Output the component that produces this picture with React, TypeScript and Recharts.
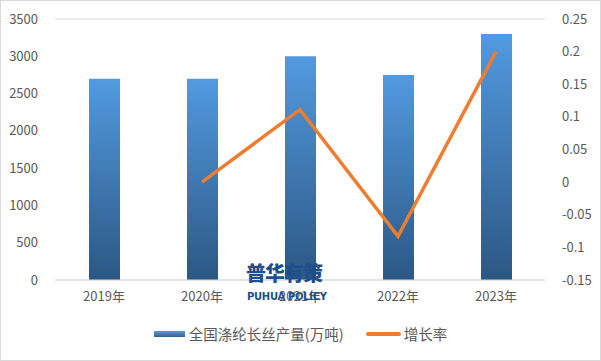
import React from 'react';
import { ComposedChart, Bar, Line, XAxis, YAxis, CartesianGrid, Legend } from 'recharts';

const years = ['2019年', '2020年', '2021年', '2022年', '2023年'];
const output = [2700, 2700, 3000, 2750, 3300];
const growth: (number | null)[] = [null, 0, 0.111, -0.083, 0.2];
const leftTicks = [0, 500, 1000, 1500, 2000, 2500, 3000, 3500];
const rightTicks = [-0.15, -0.1, -0.05, 0, 0.05, 0.1, 0.15, 0.2, 0.25];
const barName = '全国涤纶长丝产量(万吨)';
const lineName = '增长率';

const data = years.map((y, i) => ({ year: y, output: output[i], growth: growth[i] }));

const FONT = '"Microsoft YaHei", "Noto Sans CJK SC", "DejaVu Sans", sans-serif';
const TXT = '#595959';

const LegendContent = () => (
  <div style={{ display: 'flex', justifyContent: 'center', alignItems: 'center', fontFamily: FONT, fontSize: 14.5, color: TXT, height: 20, lineHeight: '20px' }}>
    <span style={{ display: 'inline-block', width: 31, height: 6, background: 'linear-gradient(#5b9bd5,#2f5f8f)', marginRight: 4 }} />
    <span>{barName}</span>
    <span style={{ display: 'inline-block', width: 35, height: 4, borderRadius: 2, background: '#ED7D31', marginLeft: 22, marginRight: 3 }} />
    <span>{lineName}</span>
  </div>
);

export default function App() {
  return (
    <div style={{ position: 'absolute', left: 0, top: 0, width: 601, height: 361, background: '#fff' }}>
      <div style={{ position: 'absolute', left: 0, top: 0, width: 599, height: 359, border: '1px solid #d9d9d9' }} />
      <ComposedChart width={601} height={361} data={data} margin={{ top: 19, right: 0, bottom: 31, left: 0 }}>
        <defs>
          <linearGradient id="barGrad" x1="0" y1="0" x2="0" y2="1">
            <stop offset="0%" stopColor="#529ae0" />
            <stop offset="100%" stopColor="#2c5783" />
          </linearGradient>
        </defs>
        <CartesianGrid vertical={false} stroke="#d9d9d9" strokeWidth={1} />
        <XAxis dataKey="year" axisLine={{ stroke: '#d9d9d9' }} tickLine={false} height={30}
          tick={{ fill: TXT, fontSize: 13, fontFamily: FONT }} tickMargin={6} interval={0} />
        <YAxis yAxisId="left" width={55} domain={[0, 3500]} ticks={leftTicks} axisLine={false} tickLine={false}
          tick={{ fill: TXT, fontSize: 13, fontFamily: FONT }} tickMargin={11} interval={0} />
        <YAxis yAxisId="right" orientation="right" width={56} domain={[-0.15, 0.25]} ticks={rightTicks}
          axisLine={false} tickLine={false} tick={{ fill: TXT, fontSize: 13, fontFamily: FONT }} tickMargin={11}
          interval={0} tickFormatter={(v: number) => String(Math.round(v * 100) / 100)} />
        <Bar yAxisId="left" dataKey="output" name={barName} fill="url(#barGrad)" barSize={31} isAnimationActive={false} />
        <Line yAxisId="right" dataKey="growth" name={lineName} stroke="#ED7D31" strokeWidth={3.5} dot={false}
          activeDot={false} connectNulls={false} isAnimationActive={false} />
        <Legend content={<LegendContent />} wrapperStyle={{ position: 'absolute', left: 0, top: 324, width: 601 }} />
      </ComposedChart>
      <div style={{ position: 'absolute', left: 246, top: 261, fontFamily: '"Noto Sans CJK SC", sans-serif', fontWeight: 900, fontSize: 20, color: '#1f4f8a', letterSpacing: -1, lineHeight: '24px' }}>普华有策</div>
      <div style={{ position: 'absolute', left: 247, top: 291, fontFamily: '"DejaVu Sans", sans-serif', fontWeight: 700, fontSize: 10, color: '#1f4f8a', lineHeight: '12px', letterSpacing: -0.3 }}>PUHUA POLICY</div>
    </div>
  );
}
